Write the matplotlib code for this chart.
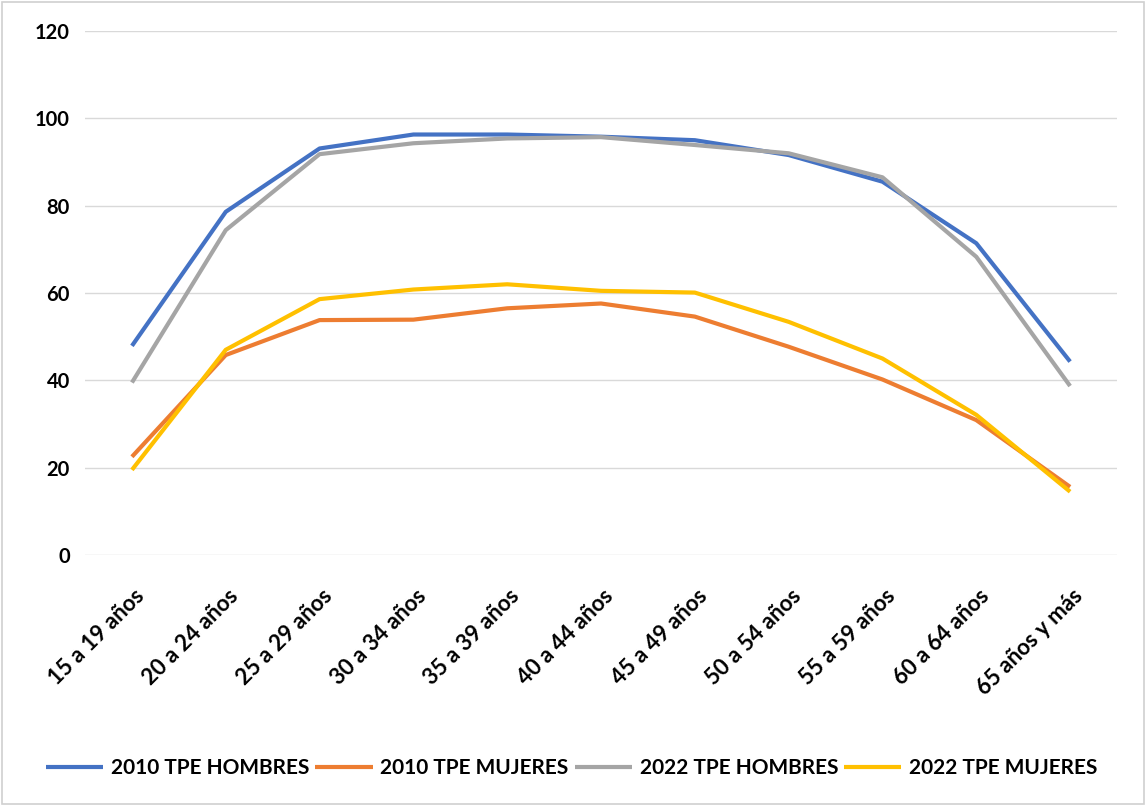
import matplotlib
matplotlib.use("Agg")
import matplotlib.pyplot as plt
from matplotlib.patches import Rectangle

categories = ["15 a 19 años", "20 a 24 años", "25 a 29 años", "30 a 34 años",
              "35 a 39 años", "40 a 44 años", "45 a 49 años", "50 a 54 años",
              "55 a 59 años", "60 a 64 años", "65 años y más"]
h2010 = [47.9, 78.6, 93.1, 96.3, 96.3, 95.8, 95.0, 91.6, 85.5, 71.4, 44.3]
m2010 = [22.5, 45.8, 53.8, 53.9, 56.5, 57.6, 54.6, 47.7, 40.2, 30.9, 15.6]
h2022 = [39.5, 74.4, 91.8, 94.3, 95.4, 95.7, 93.9, 92.0, 86.5, 68.3, 38.7]
m2022 = [19.5, 47.0, 58.6, 60.8, 62.0, 60.5, 60.1, 53.4, 45.0, 32.1, 14.5]
series_labels = ["2010 TPE HOMBRES", "2010 TPE MUJERES", "2022 TPE HOMBRES", "2022 TPE MUJERES"]
colors = ["#4472C4", "#ED7D31", "#A5A5A5", "#FFC000"]
yticks = [0, 20, 40, 60, 80, 100, 120]

plt.rcParams['font.family'] = ['Lato', 'DejaVu Sans']
plt.rcParams['font.weight'] = 'bold'

fig = plt.figure(figsize=(11.46, 8.06), dpi=100)
fig.patches.append(Rectangle((0.002, 0.002), 0.996, 0.996, transform=fig.transFigure,
                             fill=False, edgecolor="#D0D0D0", linewidth=1.2))
ax = fig.add_axes([0.0742, 0.3114, 0.9005, 0.6501])

x = list(range(len(categories)))
for vals, lab, c in zip([h2010, m2010, h2022, m2022], series_labels, colors):
    ax.plot(x, vals, color=c, linewidth=3.0, label=lab, solid_capstyle='butt')

ax.set_xlim(-0.5, len(categories) - 0.5)
ax.set_ylim(0, 120)
ax.set_yticks(yticks)
ax.set_yticklabels([str(v) for v in yticks], fontsize=14.5, fontweight='bold')
ax.set_xticks(x)
ax.set_xticklabels([])
for i, cat in enumerate(categories):
    ax.annotate(cat, xy=(i, 0), xycoords=('data', 'axes fraction'),
                xytext=(12, -22), textcoords='offset points',
                rotation=45, ha='right', va='top', fontsize=16, fontweight='bold',
                annotation_clip=False)
ax.tick_params(axis='both', length=0)
ax.tick_params(axis='y', pad=11)
ax.grid(axis='y', color='#D9D9D9', linewidth=1.0)
ax.set_axisbelow(True)
for s in ax.spines.values():
    s.set_visible(False)

leg = fig.legend(loc='center', bbox_to_anchor=(0.499, 0.047), ncol=4, frameon=False,
                 prop={'size': 15, 'weight': 'bold'}, handlelength=2.74,
                 handletextpad=0.38, columnspacing=0.29)

fig.savefig("out.png", dpi=100)
